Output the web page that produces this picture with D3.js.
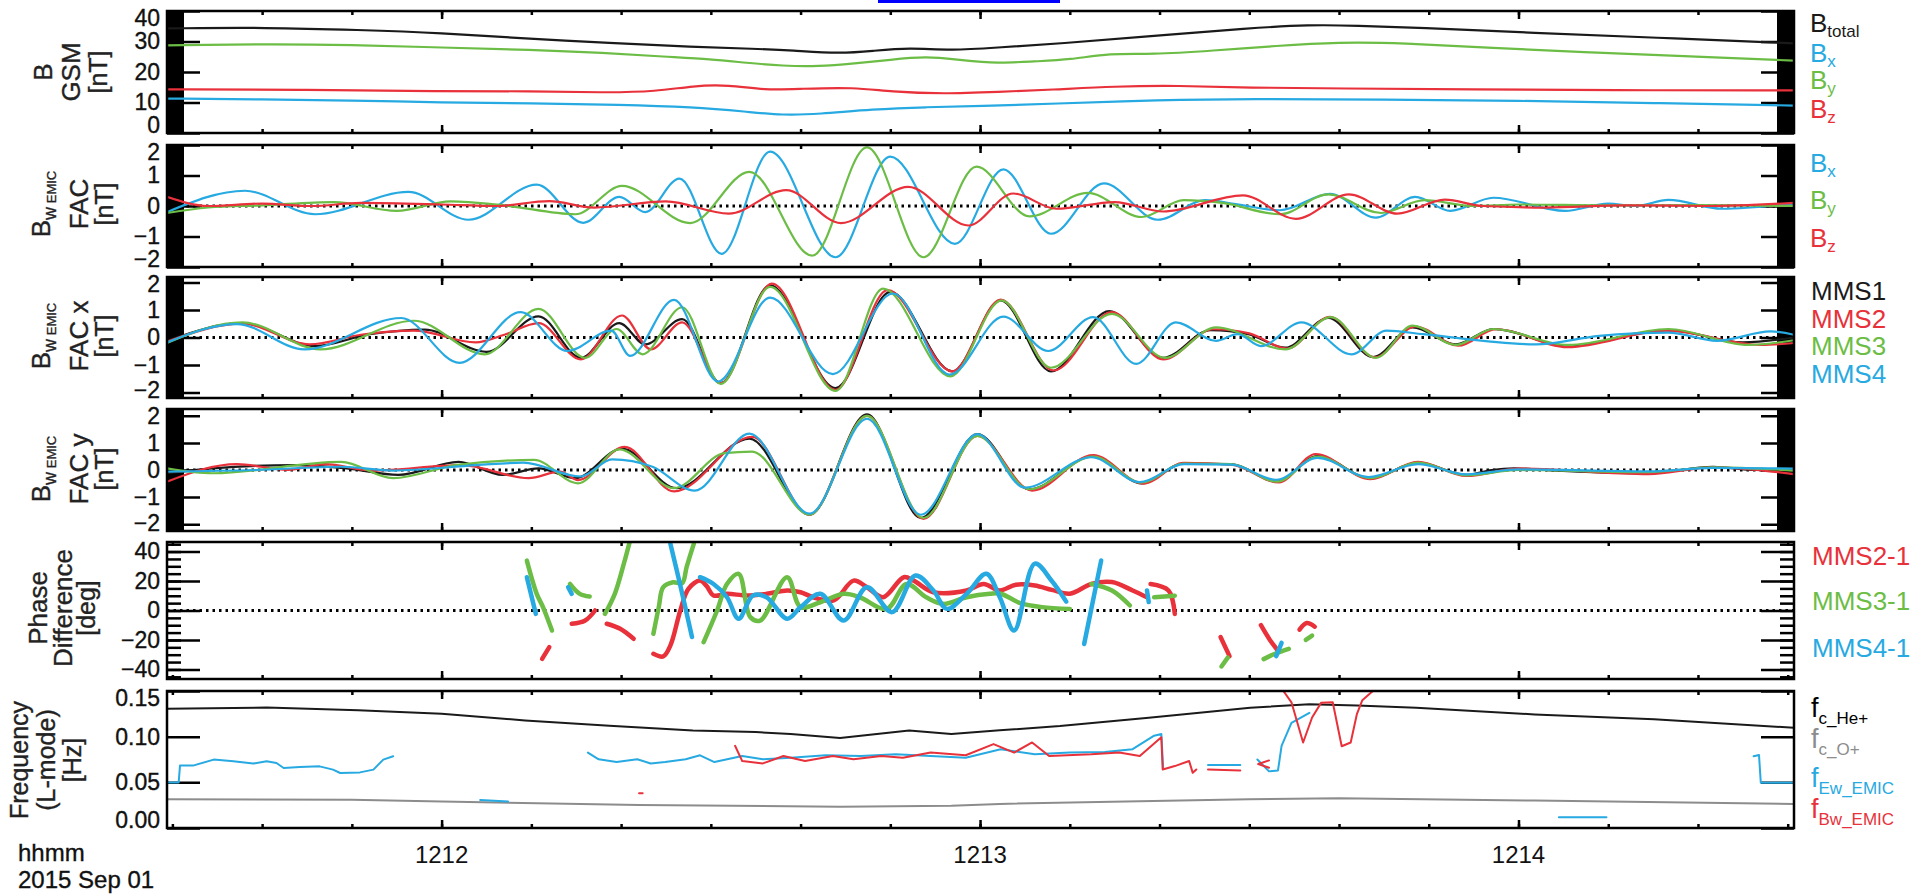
<!DOCTYPE html>
<html>
<head>
<meta charset="utf-8">
<script src="https://cdn.jsdelivr.net/npm/d3@7"></script>
<style>
html, body { margin: 0; padding: 0; background: #fff; }
svg { display: block; font-family: "Liberation Sans", Arial, sans-serif; }
</style>
</head>
<body>
<svg id="chart" width="1932" height="894"></svg>
<script>
// time axis: seconds after 12:11:00 UT, 2015 Sep 01
const T0 = 29.4, T1 = 210.7;
const timeTicks = [60, 120, 180];
const timeLabels = ['1212', '1213', '1214'];
const minorTimes = d3.range(30, 211, 10);

// panel 1: B GSM [nT]
const bTotal = [[29.4,34.3],[40.5,34.6],[50.7,33.8],[60,32.8],[69.3,31],[78.7,29.5],[88,28.2],[95,27.6],[99,27.1],[104.4,26],[108,26.9],[112.1,28],[116.8,27],[122.2,28.1],[128.9,29.3],[138.8,31.7],[150.1,34.4],[156.7,35.5],[162,35.2],[168.6,34.6],[181.8,32.8],[195.1,31.3],[210.7,29.4]];
const bxGsm = [[29.4,11.3],[40,11],[50,10.7],[60,10],[70,9.7],[80,9.3],[88,8.5],[94,7],[98,5.8],[102,6.2],[108,7.8],[114,8.5],[120,8.8],[128,9.6],[140,10.8],[150,11.2],[165,11],[180,10.6],[195,9.8],[210.7,9]];
const byGsm = [[29.4,28.7],[40,29.2],[50,28.9],[60,28],[70,27.3],[78,26.3],[85,25],[90,24.2],[94,23],[98,22],[102,21.8],[106,22.8],[110,24],[114,25.2],[118,23.8],[122,22.8],[126,23.5],[130,24],[134.5,26.2],[139,25.7],[146,27],[153,28.6],[160,29.8],[167,29.5],[177,27.9],[188,26.4],[199,25.2],[210.7,23.7]];
const bzGsm = [[29.4,14.3],[45,14.2],[60,13.6],[70,13.8],[78,13.2],[84,13.6],[88,15.5],[92,15.8],[96,14],[100,14.5],[106,15],[110,13.5],[116,12.8],[122,13.5],[128,14.2],[135,15.3],[142,15.6],[150,14.8],[160,14.6],[175,14.3],[190,14],[210.7,14]];

// panel 2: Bw_EMIC FAC [nT]
const wBx = [[29.4,-0.2],[38.1,0.5],[45.9,-0.27],[56.3,0.46],[63,-0.45],[70.6,0.7],[75.8,-0.55],[79.8,0.3],[82.7,-0.2],[86.5,0.9],[91.2,-1.57],[96.6,1.78],[103.9,-1.68],[110,1.62],[117.2,-1.24],[122.6,1.2],[127.9,-0.91],[133.8,0.74],[139.8,-0.45],[145.1,0.19],[148.5,0.06],[153.4,-0.14],[159,0.4],[164.1,-0.38],[168.5,0.3],[172.4,-0.16],[177.2,0.27],[185.2,-0.16],[190,0.08],[193,0],[196.7,0.2],[202.7,-0.09],[210.7,0.08]];
const wBy = [[29.4,-0.23],[34,-0.05],[40,0.02],[48,0.13],[55,-0.16],[61,0.15],[67,0.02],[74.9,-0.27],[80.1,0.66],[87.7,-0.56],[94.3,1.12],[101.3,-1.63],[107.4,1.92],[113.7,-1.68],[119.6,1.29],[125.5,-0.34],[132,0.43],[138,-0.36],[142.7,0.19],[147,0.1],[153.4,-0.27],[158.8,0.38],[164.7,-0.23],[169.5,0.19],[175,0],[180,0.05],[190,0.02],[200,0.03],[210.7,0]];
const wBz = [[29.4,0.3],[34,0],[40,0.08],[45.5,0],[51,0.1],[60,0.05],[66,0],[72,0.16],[77,-0.05],[85,0.15],[92,-0.25],[98.4,0.52],[104.5,-0.56],[112,0.63],[118.7,-0.64],[123.7,0.41],[128.5,-0.09],[135,0.13],[140.4,-0.18],[149.3,0.35],[155.2,-0.42],[161.1,0.38],[166.5,-0.25],[171.8,0.21],[176,0],[183,-0.05],[192,0.02],[201,0],[210.7,0.1]];

// panel 3: Bw_EMIC FAC x, MMS1-4 [nT]
const facX1 = [[29.4,-0.12],[37.8,0.52],[45.9,-0.31],[52,0.12],[58.1,0.29],[65,-0.52],[70.8,0.77],[75.5,-0.74],[79.8,0.52],[82.7,-0.25],[86.8,0.67],[91.1,-1.66],[96.6,1.9],[103.9,-1.84],[110,1.66],[116.9,-1.23],[122.3,1.35],[127.9,-1.23],[134.4,0.96],[140.4,-0.74],[145.7,0.27],[149.9,0.12],[154,-0.37],[158.8,0.71],[163.8,-0.71],[168.2,0.37],[173,-0.25],[177.2,0.31],[185.5,-0.31],[196.7,0.27],[205,-0.18],[210.7,0]];
const facX2 = [[29.4,-0.15],[37.8,0.5],[45.3,-0.25],[51,0.1],[56.9,0.25],[63.8,-0.18],[67,0.1],[70.8,0.52],[75.5,-0.8],[80.1,0.8],[83.3,-0.43],[86.8,0.55],[91.1,-1.66],[96.8,1.96],[103.9,-1.9],[109.7,1.72],[116.9,-1.23],[122.3,1.38],[128.2,-1.2],[134.7,0.92],[140.4,-0.8],[146,0.3],[150,0.15],[154.2,-0.4],[159,0.75],[164,-0.72],[168.5,0.4],[173.3,-0.3],[177.5,0.3],[185.5,-0.35],[196.5,0.25],[207,-0.27],[210.7,-0.2]];
const facX3 = [[29.4,-0.2],[37.8,0.55],[46.5,-0.43],[56.9,0.61],[64.8,-0.61],[70.8,1.04],[76,-0.74],[79.5,0.31],[82.4,-0.61],[86.8,1.1],[91.1,-1.69],[96.6,1.84],[103.9,-1.94],[109.2,1.78],[116.7,-1.41],[122.4,1.35],[127.9,-1.1],[134.7,0.86],[140.6,-0.74],[146.3,0.37],[154,-0.43],[159.1,0.74],[164.1,-0.74],[168.2,0.43],[173,-0.27],[177.2,0.31],[185.5,-0.27],[196.7,0.31],[205.6,-0.27],[210.7,-0.1]];
const facX4 = [[29.4,-0.18],[37.2,0.49],[44.7,-0.43],[55.5,0.71],[62,-0.92],[68.8,0.92],[74,-0.49],[78.9,0.25],[81,-0.67],[85.9,1.37],[90.8,-1.6],[96.6,1.45],[103.6,-1.33],[110.3,1.6],[116.6,-1.35],[122.6,0.76],[127.6,-0.49],[132.6,0.74],[137.4,-0.96],[141.8,0.55],[146.3,-0.12],[148.7,0.12],[151.3,-0.31],[155.8,0.55],[161.4,-0.61],[165.3,0.25],[169.4,0.12],[181.9,-0.25],[189,0.06],[196.7,0.18],[202.1,-0.12],[208.1,0.22],[210.7,0.1]];

// panel 4: Bw_EMIC FAC y, MMS1-4 [nT]
const facY1 = [[29.4,-0.12],[34.5,0.06],[43.6,0.18],[49.4,0.06],[55.2,-0.18],[61.9,0.3],[66.8,-0.18],[70.8,0.06],[74.9,-0.3],[80.1,0.79],[86.2,-0.67],[94.3,1.16],[101,-1.65],[107.4,2.05],[113.4,-1.77],[119.7,1.32],[125.5,-0.71],[132.6,0.51],[138,-0.49],[142.7,0.24],[148,0.22],[153.1,-0.43],[157.6,0.51],[163.5,-0.3],[168.8,0.27],[174.2,-0.18],[177,0],[179.5,0.06],[183,0],[194.5,-0.12],[201.7,0.12],[206.4,0],[210.7,0.03]];
const facY2 = [[29.4,-0.43],[37.2,0.22],[42.9,0],[47,0.22],[52.2,-0.02],[62.2,0.18],[69.7,-0.3],[73.2,-0.06],[75.2,-0.37],[80.4,0.85],[85.9,-0.79],[94.6,1.22],[101,-1.65],[107.4,2],[113.7,-1.8],[119.7,1.26],[125.8,-0.76],[132.6,0.55],[138.2,-0.5],[142.7,0.26],[148,0.2],[153.3,-0.46],[157.4,0.59],[163.5,-0.34],[168.8,0.3],[174.2,-0.22],[180,0.05],[194.5,-0.15],[201.7,0.1],[210.7,-0.15]];
const facY3 = [[29.4,0.06],[34.5,-0.12],[48.8,0.3],[54.6,-0.3],[61.6,0.18],[70.3,0.37],[75.2,-0.49],[79.8,0.76],[85.9,-0.67],[91.5,0.62],[94.6,0.68],[101,-1.65],[107.4,2],[113.7,-1.77],[119.7,1.26],[125.5,-0.71],[132.6,0.49],[138,-0.46],[142.7,0.24],[148,0.22],[153.1,-0.43],[157.6,0.49],[163.5,-0.3],[168.8,0.27],[174.2,-0.2],[180,0],[194.5,-0.08],[201.7,0.1],[210.7,-0.02]];
const facY4 = [[29.4,-0.06],[39.3,0],[48.8,0.12],[54.6,-0.02],[63.9,0.18],[69.1,0.27],[75.5,-0.24],[79,0.39],[83.5,0.12],[88.2,-0.76],[94.3,1.34],[101,-1.61],[107.4,1.89],[113.4,-1.65],[119.7,1.32],[125,-0.65],[132.4,0.47],[137.8,-0.45],[142.7,0.22],[148,0.2],[153,-0.36],[157.6,0.45],[163.3,-0.26],[168.8,0.22],[174.2,-0.16],[180,0.02],[194.5,-0.05],[201.7,0.08],[210.7,0.05]];

// panel 5: phase difference [deg], broken segments
const phase21 = [
  [[71.2,-32.8],[72.0,-24.9]],
  [[74.5,-9],[76.0,-6.8],[77.1,0]],
  [[78.4,-9],[79.9,-12.4],[81.4,-19.2]],
  [[83.6,-29.4],[84.7,-31.2],[85.5,-23.7],[86.6,0],[87.5,14.7],[88.8,20.3],[89.5,16.9],[90.3,10.2],[91.8,11.3],[94.0,10.2],[96.2,11.3],[98.5,13.6],[100,12.4],[101.4,9],[103.7,6.8],[105.9,20.3],[107.4,15.8],[109.2,9],[111.5,22.6],[112.6,20.3],[114.8,12.4],[118.5,13.6],[120.4,18],[122.2,13.6],[124,17.5],[126.1,17],[128,14],[130,11.4],[132.4,18],[134.7,19.3],[137,13.6],[138.6,9]],
  [[139,18],[141,13.6],[141.7,-2.3]],
  [[146.8,-18],[147.8,-31]],
  [[151.3,-10],[152.3,-20],[153.3,-28]],
  [[155.6,-13],[156.4,-8.5],[157.3,-11]]
];
const phase31 = [
  [[69.5,33.9],[70.6,11.3],[71.3,2.3],[72.3,-13.6]],
  [[74.3,18],[75.4,11.3],[76.5,9.5]],
  [[78.2,-2.3],[79.3,11.3],[80.3,31.6],[81.0,47.5]],
  [[83.6,-15.8],[84.2,2.3],[84.7,15.8],[85.8,19.2],[86.8,18.5],[87.3,29.4],[88.1,45.2]],
  [[89.2,-21.5],[90.7,0],[91.8,18],[93.1,24.9],[94.4,-4.5],[95.5,-6.8],[98.5,22.6],[100,2.3],[102.2,5.6],[104.8,11.3],[106.6,9],[109.6,1.1],[111.8,18],[114,9],[115.9,4.5],[118.5,9],[121.1,11.3],[122.3,11.4],[124.5,5],[126.9,2.3],[130,1]],
  [[132.4,18],[134.7,13.6],[136.7,3.4]],
  [[139.4,9],[141.7,10]],
  [[146.9,-38],[147.6,-32]],
  [[151.6,-33],[153,-29],[154.4,-26]],
  [[156.3,-20],[157,-17]]
];
const phase41 = [
  [[69.5,22.6],[70.5,-2.3]],
  [[74.1,15.8],[74.5,11.3]],
  [[85.5,45.2],[86.6,17],[87.9,-18]],
  [[88.8,22.6],[90.3,18],[91.8,9],[93.1,-5.6],[94.7,10.2],[96.2,9],[98.5,-5.6],[100,2.3],[102.2,11.3],[104.8,-6.8],[107.4,15.8],[110.2,-1.1],[112.8,23.7],[114.8,13.6],[116.3,1.1],[118.5,11.3],[120.7,24.9],[122.2,9],[123.8,-13.6],[126.1,31.8],[128,20],[129.6,6]],
  [[131.6,-22.7],[133.5,34]],
  [[138.6,13.6],[138.8,5.7]],
  [[153,-31],[153.6,-22]]
];

// panel 6: frequency (L-mode) [Hz]
const fHe = [[29.4,0.1307],[40.5,0.1318],[50.7,0.129],[60,0.125],[69.3,0.1178],[78.7,0.112],[88,0.1067],[95,0.105],[98.9,0.103],[104.4,0.0985],[112.1,0.1067],[116.8,0.103],[122.2,0.107],[128.9,0.1116],[138.8,0.1207],[150.1,0.1317],[156.7,0.1354],[162,0.134],[168.6,0.1317],[181.8,0.1244],[195.1,0.119],[210.7,0.1097]];
const fO = [[29.4,0.0316],[50,0.0308],[60,0.0289],[82,0.0252],[104.4,0.0233],[116.8,0.0244],[122.2,0.0264],[150,0.0315],[160,0.0327],[181.8,0.03],[210.7,0.0264]];
const fEw = [
  [[29.4,0.0499],[30.7,0.0499],[30.85,0.0683],[32.3,0.0683],[34.6,0.0749],[36.8,0.073],[39,0.0705],[40.5,0.073],[41.6,0.0712],[42.4,0.0657],[44.2,0.0668],[46.4,0.0675],[47.9,0.0639],[48.7,0.0602],[50.9,0.0609],[52.4,0.0639],[53.5,0.0749],[54.6,0.0785]],
  [[64.3,0.0307],[67.4,0.0289]],
  [[76.3,0.0826],[77.5,0.0752],[79.5,0.0722],[81.8,0.0752],[83.3,0.0707],[84.9,0.0722],[87.2,0.0752],[88.8,0.0796],[90.4,0.0722],[93.5,0.0789],[95.8,0.0752],[98.9,0.077],[102.8,0.0796],[106.7,0.0789],[110.6,0.0807],[114.5,0.0789],[118.4,0.077],[122.3,0.0863],[126.1,0.0807],[130,0.0826],[133.9,0.0833],[137,0.0863],[139.4,0.1011],[140.2,0.103],[140.4,0.066]],
  [[145.4,0.069],[149,0.069]],
  [[150.9,0.075],[152.2,0.062],[153.2,0.063],[153.6,0.09],[154.7,0.115],[156.7,0.126]],
  [[184.5,0.0118],[189.8,0.0118]],
  [[206.2,0.0785],[206.8,0.08],[207.0,0.0495],[210.7,0.0495]]
];
const fBw = [
  [[82.0,0.038],[82.4,0.038]],
  [[92.7,0.09],[93.5,0.0733],[95.8,0.0707],[98.1,0.0789],[100.5,0.0733],[103.6,0.0789],[105.9,0.0752],[109,0.0789],[111.4,0.077],[114.5,0.0826],[118.4,0.0796],[121.5,0.0919],[123.8,0.0826],[125.8,0.0937],[127.7,0.0789],[132.4,0.0807],[135.5,0.0826],[137.8,0.0789],[140.2,0.0993],[140.35,0.064],[141.7,0.0678],[143.3,0.0733],[143.7,0.0604],[144.1,0.064]],
  [[145.4,0.064],[149,0.063]],
  [[152.2,0.074],[151,0.07],[152.2,0.066]],
  [[153.8,0.15],[154.7,0.1376],[156,0.0936],[157,0.121],[158,0.137],[159.3,0.1376],[160.3,0.0895],[161.3,0.0936],[162,0.125],[162.6,0.14],[164,0.152]]
];

// tick values
const gsmTicks = [0, 10, 20, 30, 40];
const nTTicks = [-2, -1, 0, 1, 2];
const degTicks = [-40, -20, 0, 20, 40];
const degMinor = d3.range(-45, 46, 5);
const hzTicks = [0, 0.05, 0.10, 0.15];

const C = { black: '#1a1a1a', blue: '#27a9e1', green: '#6cbd45', red: '#e8313a', grey: '#8c8c8c' };
const X0 = 167, X1 = 1794;
const svg = d3.select('#chart');
const x = d3.scaleLinear().domain([T0, T1]).range([X0, X1]);

const panels = [
  { top: 11,  bottom: 133, domain: [0, 40],       ticks: gsmTicks, fmt: d3.format('d'),  bars: true },
  { top: 145, bottom: 267, domain: [-2, 2],       ticks: nTTicks,  fmt: d3.format('d'),  bars: true, zero: true },
  { top: 277, bottom: 398, domain: [-2.2, 2.2],   ticks: nTTicks,  fmt: d3.format('d'),  bars: true, zero: true },
  { top: 409, bottom: 531, domain: [-2.25, 2.25], ticks: nTTicks,  fmt: d3.format('d'),  bars: true, zero: true },
  { top: 542, bottom: 679, domain: [-46.5, 46.5], ticks: degTicks, fmt: d3.format('d'),  minor: degMinor, zero: true },
  { top: 691, bottom: 828, domain: [0, 0.15],     ticks: hzTicks,  fmt: d3.format('.2f') }
];

const defs = svg.append('defs');

panels.forEach((p, i) => {
  p.y = d3.scaleLinear().domain(p.domain).range([p.bottom, p.top]);
  const g = svg.append('g');

  if (p.bars) {
    g.append('rect').attr('x', X0).attr('y', p.top).attr('width', 17).attr('height', p.bottom - p.top).attr('fill', '#000');
    g.append('rect').attr('x', X1 - 17).attr('y', p.top).attr('width', 17).attr('height', p.bottom - p.top).attr('fill', '#000');
  }

  // y ticks, both sides, pointing inward
  const left = g.append('g').attr('transform', `translate(${X0},0)`)
    .call(d3.axisLeft(p.y).tickValues(p.ticks).tickSize(-33).tickPadding(7).tickFormat(p.fmt));
  g.append('g').attr('transform', `translate(${X1},0)`)
    .call(d3.axisRight(p.y).tickValues(p.ticks).tickSize(-33).tickFormat(''));
  if (p.minor) {
    g.append('g').attr('transform', `translate(${X0},0)`)
      .call(d3.axisLeft(p.y).tickValues(p.minor).tickSize(-14).tickFormat(''));
    g.append('g').attr('transform', `translate(${X1},0)`)
      .call(d3.axisRight(p.y).tickValues(p.minor).tickSize(-14).tickFormat(''));
  }
  left.attr('font-size', 23).attr('font-family', null);
  left.selectAll('.tick').each(function(d) {
    const yy = p.y(d);
    const cy = Math.max(p.top + 7, Math.min(p.bottom - 8, yy));
    d3.select(this).select('text').attr('y', cy - yy).attr('fill', '#111')
      .attr('stroke', '#111').attr('stroke-width', 0.35);
  });

  // time ticks on top and bottom edges
  [[p.top, d3.axisTop], [p.bottom, d3.axisBottom]].forEach(([yy, ax]) => {
    g.append('g').attr('transform', `translate(0,${yy})`)
      .call(ax(x).tickValues(minorTimes).tickSize(-4).tickFormat(''));
    g.append('g').attr('transform', `translate(0,${yy})`)
      .call(ax(x).tickValues(timeTicks).tickSize(-8).tickFormat(''));
  });

  g.selectAll('.domain').remove();
  g.selectAll('.tick line').attr('stroke', '#000').attr('stroke-width', 2.5);

  if (p.zero) {
    g.append('line').attr('x1', X0).attr('x2', X1).attr('y1', p.y(0)).attr('y2', p.y(0))
      .attr('stroke', '#000').attr('stroke-width', 3).attr('stroke-dasharray', '2.5,4');
  }

  defs.append('clipPath').attr('id', 'clip' + i)
    .append('rect').attr('x', X0).attr('y', p.top).attr('width', X1 - X0).attr('height', p.bottom - p.top);
  p.plot = g.append('g').attr('clip-path', `url(#clip${i})`);
});

function drawLine(p, data, color, width, curve) {
  const line = d3.line().x(d => x(d[0])).y(d => p.y(d[1])).curve(curve || d3.curveMonotoneX);
  p.plot.append('path').attr('d', line(data))
    .attr('fill', 'none').attr('stroke', color).attr('stroke-width', width)
    .attr('stroke-linejoin', 'round').attr('stroke-linecap', 'round');
}

// panel 1
drawLine(panels[0], bTotal, C.black, 2.2, d3.curveBasis);
drawLine(panels[0], byGsm, C.green, 2.2, d3.curveBasis);
drawLine(panels[0], bzGsm, C.red, 2.2, d3.curveBasis);
drawLine(panels[0], bxGsm, C.blue, 2.2, d3.curveBasis);

// panel 2
drawLine(panels[1], wBx, C.blue, 2.2);
drawLine(panels[1], wBy, C.green, 2.2);
drawLine(panels[1], wBz, C.red, 2.2);

// panels 3 and 4
[[facX1, facX2, facX3, facX4], [facY1, facY2, facY3, facY4]].forEach((set, k) => {
  const p = panels[2 + k];
  drawLine(p, set[0], C.black, 2.2);
  drawLine(p, set[1], C.red, 2.2);
  drawLine(p, set[2], C.green, 2.2);
  drawLine(p, set[3], C.blue, 2.2);
});

// panel 5
const catmull = d3.curveCatmullRom.alpha(0.5);
phase21.forEach(s => drawLine(panels[4], s, C.red, 4.5, catmull));
phase31.forEach(s => drawLine(panels[4], s, C.green, 4.5, catmull));
phase41.forEach(s => drawLine(panels[4], s, C.blue, 4.5, catmull));

// panel 6
drawLine(panels[5], fHe, C.black, 2, d3.curveLinear);
drawLine(panels[5], fO, C.grey, 2, d3.curveLinear);
fEw.forEach(s => drawLine(panels[5], s, C.blue, 2, d3.curveLinear));
fBw.forEach(s => drawLine(panels[5], s, C.red, 2, d3.curveLinear));

// frames on top
panels.forEach(p => {
  svg.append('rect').attr('x', X0).attr('y', p.top).attr('width', X1 - X0).attr('height', p.bottom - p.top)
    .attr('fill', 'none').attr('stroke', '#000').attr('stroke-width', 2.5);
});

// rich text helper: parts = [text, size, dy]
function rich(sel, parts) {
  let shift = 0;
  parts.forEach(([t, size, dy]) => {
    const d = (dy || 0) - shift;
    shift = dy || 0;
    sel.append('tspan').attr('font-size', size).attr('dy', d).text(t);
  });
}

// y-axis titles (rotated)
const titles = [
  { yc: 72,  lines: [[52, [['B', 26]]], [80, [['GSM', 26]]], [107, [['[nT]', 25]]]] },
  { yc: 204, lines: [[50, [['B', 26], ['w', 18, 6], [' EMIC', 13, 6]]], [88, [['FAC', 26]]], [113, [['[nT]', 25]]]] },
  { yc: 336, lines: [[50, [['B', 26], ['w', 18, 6], [' EMIC', 13, 6]]], [88, [['FAC x', 26]]], [113, [['[nT]', 25]]]] },
  { yc: 469, lines: [[50, [['B', 26], ['w', 18, 6], [' EMIC', 13, 6]]], [88, [['FAC y', 26]]], [113, [['[nT]', 25]]]] },
  { yc: 608, lines: [[47, [['Phase', 26]]], [72, [['Difference', 26]]], [95, [['[deg]', 25]]]] },
  { yc: 760, lines: [[28, [['Frequency', 25]]], [55, [['(L-mode)', 25]]], [81, [['[Hz]', 25]]]] }
];
titles.forEach(tt => {
  tt.lines.forEach(([xb, parts]) => {
    const t = svg.append('text').attr('transform', `translate(${xb},${tt.yc}) rotate(-90)`)
      .attr('text-anchor', 'middle').attr('fill', '#222').attr('stroke', '#222').attr('stroke-width', 0.35);
    rich(t, parts);
  });
});

// legends
const legends = [
  [1810, 32,  C.black, [['B', 26], ['total', 17, 5]]],
  [1810, 62,  C.blue,  [['B', 26], ['x', 17, 5]]],
  [1810, 89,  C.green, [['B', 26], ['y', 17, 5]]],
  [1810, 118, C.red,   [['B', 26], ['z', 17, 5]]],
  [1810, 172, C.blue,  [['B', 26], ['x', 17, 5]]],
  [1810, 209, C.green, [['B', 26], ['y', 17, 5]]],
  [1810, 247, C.red,   [['B', 26], ['z', 17, 5]]],
  [1811, 300, C.black, [['MMS1', 26]]],
  [1811, 328, C.red,   [['MMS2', 26]]],
  [1811, 355, C.green, [['MMS3', 26]]],
  [1811, 383, C.blue,  [['MMS4', 26]]],
  [1812, 565, C.red,   [['MMS2-1', 26]]],
  [1812, 610, C.green, [['MMS3-1', 26]]],
  [1812, 657, C.blue,  [['MMS4-1', 26]]],
  [1811, 717, '#000',  [['f', 27], ['c_He+', 17, 7]]],
  [1811, 748, C.grey,  [['f', 27], ['c_O+', 17, 7]]],
  [1811, 787, C.blue,  [['f', 27], ['Ew_EMIC', 17, 7]]],
  [1811, 818, C.red,   [['f', 27], ['Bw_EMIC', 17, 7]]]
];
legends.forEach(([lx, ly, col, parts]) => {
  const t = svg.append('text').attr('x', lx).attr('y', ly).attr('fill', col);
  rich(t, parts);
});

// time labels
svg.selectAll('.tlabel').data(timeTicks).join('text')
  .attr('class', 'tlabel')
  .attr('x', d => x(d)).attr('y', 863).attr('text-anchor', 'middle')
  .attr('font-size', 24).attr('fill', '#111')
  .text((d, i) => timeLabels[i]);
svg.append('text').attr('x', 18).attr('y', 861).attr('font-size', 24).attr('fill', '#111')
  .attr('stroke', '#111').attr('stroke-width', 0.35).text('hhmm');
svg.append('text').attr('x', 18).attr('y', 888).attr('font-size', 24).attr('fill', '#111')
  .attr('stroke', '#111').attr('stroke-width', 0.35).text('2015 Sep 01');

// blue bar at the top edge
svg.append('rect').attr('x', 878).attr('y', 0).attr('width', 182).attr('height', 3).attr('fill', '#0000ff');
</script>
</body>
</html>
